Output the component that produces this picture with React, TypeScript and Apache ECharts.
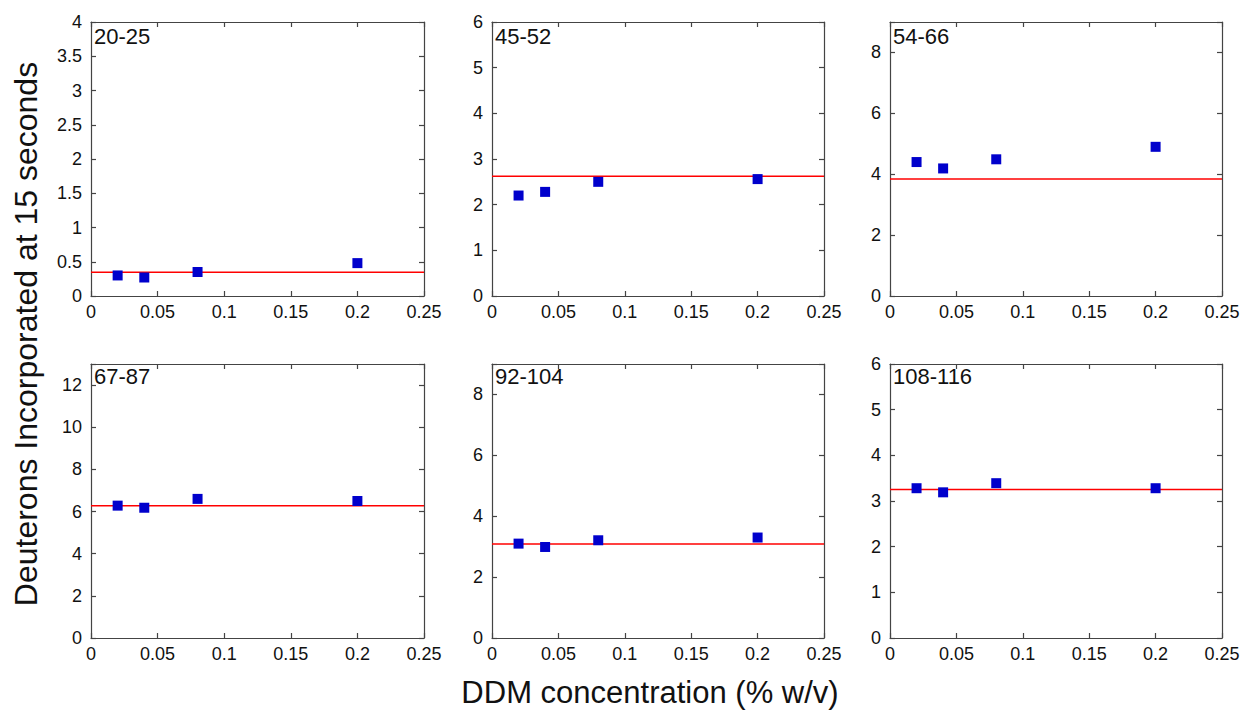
import React, { useEffect, useRef } from 'react';
import * as echarts from 'echarts';

// ---- data ----
const xValues = [0.02, 0.04, 0.08, 0.2];
const panelNames = ['20-25', '45-52', '54-66', '67-87', '92-104', '108-116'];
const values20to25 = [0.3, 0.27, 0.35, 0.48];
const values45to52 = [2.2, 2.28, 2.5, 2.56];
const values54to66 = [4.4, 4.19, 4.49, 4.9];
const values67to87 = [6.28, 6.18, 6.6, 6.5];
const values92to104 = [3.1, 2.99, 3.21, 3.3];
const values108to116 = [3.28, 3.19, 3.39, 3.28];
const panelValues = [values20to25, values45to52, values54to66, values67to87, values92to104, values108to116];
const fitLevels = [0.345, 2.62, 3.84, 6.28, 3.09, 3.25];
const yMaxes = [4, 6, 9, 13, 9, 6];
const yIntervals = [0.5, 1, 2, 2, 2, 1];
const xMin = 0;
const xMax = 0.25;
const xInterval = 0.05;
const xTitle = 'DDM concentration (% w/v)';
const yTitle = 'Deuterons Incorporated at 15 seconds';

// ---- layout ----
const gridLefts = [91, 492, 890];
const gridWidths = [333, 332, 332];
const gridTops = [22, 364];
const gridHeight = 274;
const FONT = '"Liberation Sans", Arial, sans-serif';
const AXIS_COLOR = '#444';

function buildOption() {
  const grid: any[] = [];
  const xAxis: any[] = [];
  const yAxis: any[] = [];
  const series: any[] = [];
  const graphic: any[] = [];

  panelNames.forEach((name, i) => {
    const row = Math.floor(i / 3);
    const col = i % 3;
    grid.push({ left: gridLefts[col], top: gridTops[row], width: gridWidths[col], height: gridHeight });
    const baseAxis = {
      gridIndex: i,
      type: 'value',
      axisLine: { show: true, onZero: false, lineStyle: { color: AXIS_COLOR, width: 1.2 } },
      axisTick: { show: true, inside: true, length: 5, lineStyle: { color: AXIS_COLOR, width: 1.2 } },
      splitLine: { show: false },
    };
    xAxis.push({
      ...baseAxis,
      position: 'bottom',
      min: xMin,
      max: xMax,
      interval: xInterval,
      axisLabel: { show: true, color: '#111', fontSize: 18, fontFamily: FONT, margin: 7 },
    });
    xAxis.push({
      ...baseAxis,
      position: 'top',
      min: xMin,
      max: xMax,
      interval: xInterval,
      axisLabel: { show: false },
    });
    const itv = yIntervals[i];
    yAxis.push({
      ...baseAxis,
      position: 'left',
      min: 0,
      max: yMaxes[i],
      interval: itv,
      axisLabel: {
        show: true,
        color: '#111',
        fontSize: 18,
        fontFamily: FONT,
        margin: 9,
        formatter: (v: number) => {
          const r = v / itv;
          return Math.abs(r - Math.round(r)) < 1e-6 ? String(+v.toFixed(4)) : '';
        },
      },
    });
    yAxis.push({
      ...baseAxis,
      position: 'right',
      min: 0,
      max: yMaxes[i],
      interval: itv,
      axisLabel: { show: false },
    });
    series.push({
      type: 'line',
      xAxisIndex: 2 * i,
      yAxisIndex: 2 * i,
      data: [[xMin, fitLevels[i]], [xMax, fitLevels[i]]],
      showSymbol: false,
      symbol: 'none',
      lineStyle: { color: '#ff0000', width: 1.5 },
      z: 2,
      silent: true,
    });
    series.push({
      type: 'scatter',
      xAxisIndex: 2 * i,
      yAxisIndex: 2 * i,
      data: xValues.map((x, k) => [x, panelValues[i][k]]),
      symbol: 'rect',
      symbolSize: 10,
      itemStyle: { color: '#0000cc', opacity: 1 },
      z: 3,
    });
    graphic.push({
      type: 'text',
      left: gridLefts[col] + 3,
      top: gridTops[row] + (row === 0 ? 3 : 1),
      style: { text: name, fontSize: 22, fontFamily: FONT, fill: '#111' },
      z: 10,
    });
  });

  graphic.push({
    type: 'text',
    x: 26,
    y: 334,
    rotation: Math.PI / 2,
    style: { text: yTitle, fontSize: 32, fontFamily: FONT, fill: '#111', align: 'center', verticalAlign: 'middle' },
  });
  graphic.push({
    type: 'text',
    x: 650,
    y: 692,
    style: { text: xTitle, fontSize: 31, fontFamily: FONT, fill: '#111', align: 'center', verticalAlign: 'middle' },
  });

  return {
    animation: false,
    backgroundColor: '#ffffff',
    grid,
    xAxis,
    yAxis,
    series,
    graphic,
  };
}

export default function App() {
  const ref = useRef<HTMLDivElement>(null);
  useEffect(() => {
    if (!ref.current) return;
    const chart = echarts.init(ref.current, undefined, { renderer: 'svg' });
    chart.setOption(buildOption() as any);
    return () => chart.dispose();
  }, []);
  return (
    <div
      ref={ref}
      style={{ position: 'fixed', left: 0, top: 0, width: 1243, height: 711, background: '#fff' }}
    />
  );
}
